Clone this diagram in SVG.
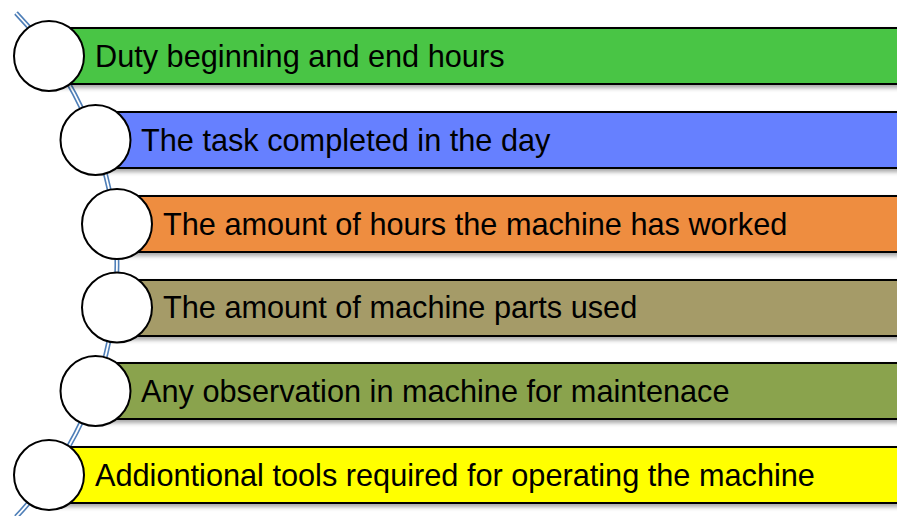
<svg xmlns="http://www.w3.org/2000/svg" width="897" height="516" viewBox="0 0 897 516">
<defs>
<filter id="sh" x="-5%" y="-20%" width="110%" height="160%">
<feDropShadow dx="0" dy="3" stdDeviation="2" flood-color="#000" flood-opacity="0.35"/>
</filter>
</defs>
<style>
.bar{stroke:#000;stroke-width:2;filter:url(#sh)}
.c{fill:#fff;stroke:#000;stroke-width:2}
.t{font-family:"Liberation Sans",Arial,sans-serif;font-size:30.7px;fill:#000;dominant-baseline:central}
.l1{fill:none;stroke:#4f7fb8;stroke-width:5}
.l2{fill:none;stroke:#fff;stroke-width:1.8}
</style>
<g id="connectors">
<path class="l1" d="M16 13 A365 365 0 0 1 16 517"/>
<path class="l2" d="M16 13 A365 365 0 0 1 16 517"/>
</g>
<g id="n1"><rect class="bar" x="49" y="28" width="860" height="56" fill="#4AC545"/><circle class="c" cx="49" cy="56" r="35"/><text class="t" x="95" y="56">Duty beginning and end hours</text></g>
<g id="n2"><rect class="bar" x="95" y="112" width="820" height="56" fill="#6680FF"/><circle class="c" cx="95.5" cy="140" r="35"/><text class="t" x="141" y="140">The task completed in the day</text></g>
<g id="n3"><rect class="bar" x="117" y="196" width="800" height="56" fill="#EE8D40"/><circle class="c" cx="117" cy="224" r="35"/><text class="t" x="163" y="224">The amount of hours the machine has worked</text></g>
<g id="n4"><rect class="bar" x="117" y="280" width="800" height="56" fill="#A59B68"/><circle class="c" cx="117" cy="307.5" r="35"/><text class="t" x="163" y="307.5">The amount of machine parts used</text></g>
<g id="n5"><rect class="bar" x="95" y="363" width="820" height="56" fill="#8AA34E"/><circle class="c" cx="95.5" cy="391" r="35"/><text class="t" x="141" y="391">Any observation in machine for maintenace</text></g>
<g id="n6"><rect class="bar" x="49" y="447" width="860" height="56" fill="#FFFF00"/><circle class="c" cx="49" cy="475" r="35"/><text class="t" x="95" y="475">Addiontional tools required for operating the machine</text></g>
</svg>
